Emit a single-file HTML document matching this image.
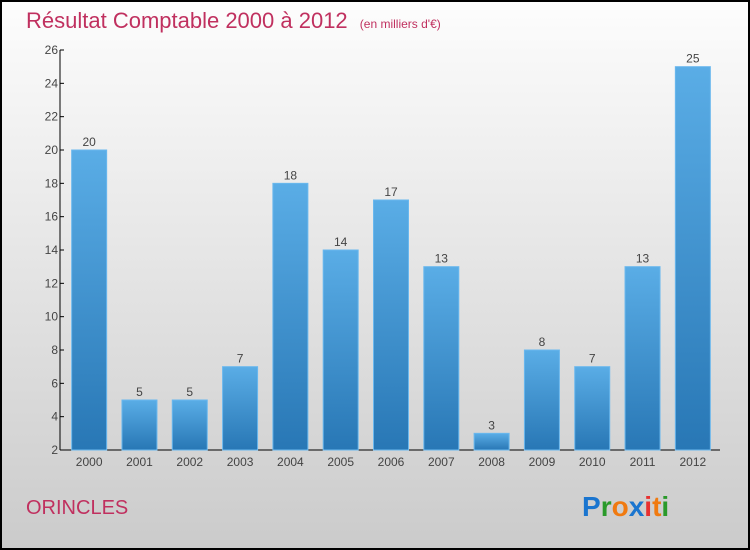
<!DOCTYPE html>
<html><head><meta charset="utf-8"><style>
body{margin:0;width:750px;height:550px;overflow:hidden}
svg{display:block}
text{font-family:"Liberation Sans",sans-serif}
</style></head><body>
<svg id="c" width="750" height="550" xmlns="http://www.w3.org/2000/svg">
<defs>
<linearGradient id="bg" x1="0" y1="0" x2="0" y2="1"><stop offset="0" stop-color="#fdfdfd"/><stop offset="1" stop-color="#cbcbcb"/></linearGradient>
<linearGradient id="bar" x1="0" y1="0" x2="0" y2="1"><stop offset="0" stop-color="#5aade6"/><stop offset="1" stop-color="#2877b5"/></linearGradient>
</defs>
<rect x="1" y="1" width="748" height="548" fill="url(#bg)" stroke="#000" stroke-width="2"/>
<text x="26" y="28" font-size="22" fill="#c0305f">Résultat Comptable 2000 à 2012 <tspan font-size="12" dx="6">(en milliers d'€)</tspan></text>
<text x="26" y="514" font-size="20" fill="#c0305f">ORINCLES</text>
<text x="582" y="516" font-size="28" font-weight="bold"><tspan fill="#1a75cf">P</tspan><tspan fill="#2a9a2a">r</tspan><tspan fill="#f07a10">o</tspan><tspan fill="#1a75cf">x</tspan><tspan fill="#e83030">i</tspan><tspan fill="#f07a10">t</tspan><tspan fill="#2a9a2a">i</tspan></text>
<g id="axes"></g>
<g id="bars"></g>
</svg>
<script>
const categories=["2000","2001","2002","2003","2004","2005","2006","2007","2008","2009","2010","2011","2012"];
const values=[20,5,5,7,18,14,17,13,3,8,7,13,25];
const yTicks=[2,4,6,8,10,12,14,16,18,20,22,24,26];
const NS="http://www.w3.org/2000/svg";
const x0=60,x1=720,yTop=50,yBot=450,yMin=2,yMax=26;
const y=v=>yBot-(v-yMin)/(yMax-yMin)*(yBot-yTop);
const step=(x1-x0-6)/categories.length;
const xc=i=>x0+8+step*(i+0.5)-4;
function mk(t,a,p){const e=document.createElementNS(NS,t);for(const k in a)e.setAttribute(k,a[k]);p.appendChild(e);return e;}
const ax=document.getElementById('axes'),bs=document.getElementById('bars');
let l=mk('line',{x1:x0,y1:yTop,x2:x0,y2:yBot,stroke:'#000'},ax);


l=mk('line',{x1:x0,y1:yBot,x2:x1,y2:yBot,stroke:'#000'},ax);


yTicks.forEach(v=>{
  const t=mk('line',{x1:x0,y1:y(v),x2:x0+4,y2:y(v),stroke:'#000'},ax);
  
  
  const tx=mk('text',{x:x0-2,y:y(v)+4,'font-size':12,fill:'#444','text-anchor':'end'},ax);
  tx.textContent=v;
  
  
});
const bw=35;
categories.forEach((c,i)=>{
  const v=values[i];
  const r=mk('rect',{x:xc(i)-bw/2,y:y(v),width:bw,height:yBot-y(v),fill:'url(#bar)',stroke:'#6ab8ee','stroke-width':1},bs);
  
  
  const vt=mk('text',{x:xc(i),y:y(v)-4,'font-size':12,fill:'#444','text-anchor':'middle'},bs);
  vt.textContent=v;
  
  
  const xt=mk('text',{x:xc(i),y:yBot+16,'font-size':12,fill:'#444','text-anchor':'middle'},bs);
  xt.textContent=c;
  
  
});
</script>
</body></html>
